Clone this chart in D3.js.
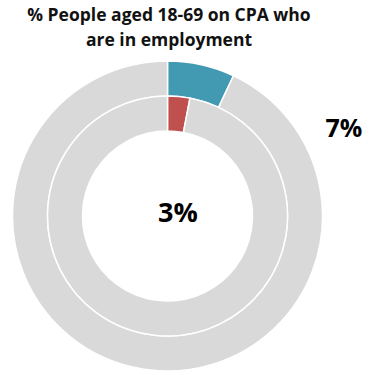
<!DOCTYPE html>
<html>
<head>
<meta charset="utf-8">
<script src="https://cdn.jsdelivr.net/npm/d3@7"></script>
<style>
  body { margin: 0; background: #fff; }
  text { font-family: "Open Sans", "Liberation Sans", sans-serif; font-weight: bold; }
</style>
</head>
<body>
<div id="chart"></div>
<script>
var titleLines = ["% People aged 18-69 on CPA who", "are in employment"];
var outerKeys = ["employed", "rest"];
var outerValues = [7, 93];
var innerKeys = ["employed", "rest"];
var innerValues = [3, 97];
var outerLabel = "7%";
var innerLabel = "3%";

var width = 369;
var height = 375;
var cx = 167.5, cy = 216;

var svg = d3.select("#chart")
    .append("svg")
    .attr("width", width)
    .attr("height", height);

var g = svg.append("g")
    .attr("transform", "translate(" + cx + "," + cy + ")");

var pie = d3.pie().sort(null).value(function(d) { return d.value; });

var outerColor = d3.scaleOrdinal().domain(outerKeys).range(["#4299b2", "#d9d9d9"]);
var innerColor = d3.scaleOrdinal().domain(innerKeys).range(["#c0504d", "#d9d9d9"]);

function toData(keys, vals) {
    return keys.map(function(k, i) { return {key: k, value: vals[i]}; });
}

var outerArc = d3.arc().innerRadius(120).outerRadius(155);
var innerArc = d3.arc().innerRadius(85).outerRadius(120);

g.selectAll(".outer")
  .data(pie(toData(outerKeys, outerValues)))
  .enter()
  .append("path")
  .attr("class", "outer")
  .attr("d", outerArc)
  .attr("fill", function(d) { return outerColor(d.data.key); })
  .attr("stroke", "white")
  .style("stroke-width", "1.5px");

g.selectAll(".inner")
  .data(pie(toData(innerKeys, innerValues)))
  .enter()
  .append("path")
  .attr("class", "inner")
  .attr("d", innerArc)
  .attr("fill", function(d) { return innerColor(d.data.key); })
  .attr("stroke", "white")
  .style("stroke-width", "1.5px");

// title
svg.selectAll(".title")
  .data(titleLines)
  .enter()
  .append("text")
  .attr("class", "title")
  .attr("x", 169)
  .attr("y", function(d, i) { return 21 + i * 25; })
  .attr("text-anchor", "middle")
  .attr("font-size", "17.5px")
  .attr("fill", "#111")
  .text(function(d) { return d; });

svg.append("text")
  .attr("x", 344)
  .attr("y", 137)
  .attr("text-anchor", "middle")
  .attr("font-size", "25px")
  .attr("fill", "#000")
  .text(outerLabel);

svg.append("text")
  .attr("x", 178)
  .attr("y", 222)
  .attr("text-anchor", "middle")
  .attr("font-size", "27px")
  .attr("fill", "#000")
  .text(innerLabel);
</script>
</body>
</html>
